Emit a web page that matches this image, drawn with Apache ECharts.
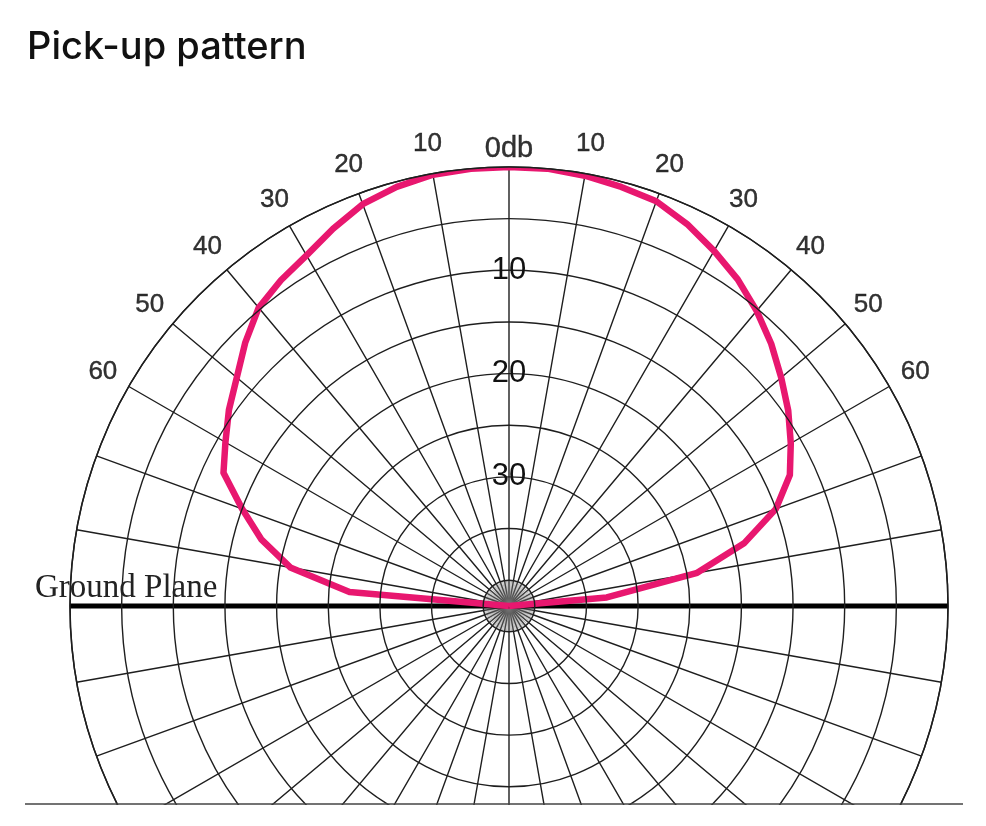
<!DOCTYPE html>
<html>
<head>
<meta charset="utf-8">
<script src="https://cdn.jsdelivr.net/npm/echarts@6/dist/echarts.min.js"></script>
<style>
html,body{margin:0;padding:0;background:#fff;}
#chart{width:986px;height:805px;}
</style>
</head>
<body>
<div id="chart"></div>
<script>
// Pick-up pattern: angle in degrees (clockwise from top, negative = left), attenuation in dB
const patternAngles = [-90,-85,-80,-75,-70,-65,-60,-55,-50,-45,-40,-35,-30,-25,-20,-15,-10,-5,0,5,10,15,20,25,30,35,40,45,50,55,60,65,70,75,80,85,90];
const patternDb     = [42.5,27,21,17.7,15,12,10.8,9.4,8.1,6.4,4.8,4.0,3.3,2.2,1.1,0.5,0.1,0,0,0,0.2,0.5,0.8,1.7,2.8,3.9,5.2,6.6,8.1,9.5,11,12.5,15,18.9,24,33,42.5];
// Ground plane: from left edge through centre to right edge
const groundAngles = [-90, 0, 90];
const groundDb     = [0, 42.5, 0];
// tick labels
const dbTickLabels = [10, 20, 30];
const angleLabelAngles = [-60, -50, -40, -30, -20, -10, 0, 10, 20, 30, 40, 50, 60];
const angleLabelTexts  = ['60', '50', '40', '30', '20', '10', '0db', '10', '20', '30', '40', '50', '60'];
const dbMax = 42.5;

// label placement (style constants, in dB units outside the 0 dB ring)
const labelOffsetDb = -2.9;
const zeroLabelOffsetDb = -1.7;

const toAxisAngle = a => (a + 360) % 360;
const patternData = patternAngles.map((a, i) => [patternDb[i], toAxisAngle(a)]);
const groundData = groundAngles.map((a, i) => [groundDb[i], toAxisAngle(a)]);
const angleLabelData = angleLabelAngles.map((a, i) => ({
  value: [a === 0 ? zeroLabelOffsetDb : labelOffsetDb, toAxisAngle(a)],
  name: angleLabelTexts[i],
  label: a === 0 ? {fontSize: 29} : undefined
}));

const gridColor = '#1e1e1e';
const chart = echarts.init(document.getElementById('chart'));
chart.setOption({
  animation: false,
  backgroundColor: '#fff',
  title: {
    text: 'Pick-up pattern',
    left: 22, top: 24,
    textStyle: {fontFamily: 'Inter', fontWeight: 500, fontSize: 38, color: '#111'}
  },
  polar: [
    {center: [509, 606], radius: 439},
    {center: [509, 606], radius: 26}
  ],
  angleAxis: [
    {
      polarIndex: 0, type: 'value', min: 0, max: 360, interval: 10,
      startAngle: 90, clockwise: true,
      axisLine: {show: true, lineStyle: {color: gridColor, width: 1.5}},
      axisTick: {show: false},
      axisLabel: {show: false},
      splitLine: {show: true, lineStyle: {color: gridColor, width: 1.4}}
    },
    {
      polarIndex: 1, type: 'value', min: 0, max: 360, interval: 3,
      startAngle: 90,
      axisLine: {show: false}, axisTick: {show: false}, axisLabel: {show: false},
      splitLine: {show: true, lineStyle: {color: '#777', width: 0.5}}
    }
  ],
  radiusAxis: [
    {
      polarIndex: 0, type: 'value', min: 0, max: dbMax, interval: 5, inverse: true,
      axisLine: {show: false}, axisTick: {show: false},
      splitLine: {show: true, lineStyle: {color: gridColor, width: 1.4}},
      axisLabel: {
        margin: 0, align: 'center', verticalAlign: 'middle',
        fontFamily: "'Liberation Sans', Arial",
        fontSize: 31, color: '#111',
        formatter: v => dbTickLabels.indexOf(v) >= 0 ? String(v) : ''
      },
      z: 5
    },
    {
      polarIndex: 1, type: 'value', min: 0, max: 1, show: false,
      splitLine: {show: false}
    }
  ],
  series: [
    {
      type: 'line', coordinateSystem: 'polar', polarIndex: 0,
      data: groundData, symbol: 'none',
      lineStyle: {color: '#000', width: 5}, z: 3
    },
    {
      type: 'line', coordinateSystem: 'polar', polarIndex: 0,
      data: patternData, symbol: 'none',
      lineStyle: {color: '#e8176f', width: 6.5, join: 'round'}, z: 4
    },
    {
      type: 'scatter', coordinateSystem: 'polar', polarIndex: 0,
      data: angleLabelData, symbolSize: 1, clip: false,
      itemStyle: {color: 'rgba(0,0,0,0)'},
      silent: true,
      label: {
        show: true, position: 'inside', formatter: '{b}',
        fontFamily: "'Liberation Sans', Arial", fontSize: 26,
        color: '#000', textBorderColor: '#000', textBorderWidth: 0.4
      },
      z: 6
    }
  ],
  graphic: [
    {
      type: 'text', left: 35, top: 572, z: 10,
      style: {text: 'Ground Plane', font: "33px 'Liberation Serif', 'Times New Roman', serif", fill: '#222'}
    },
    {
      type: 'line', z: 10,
      shape: {x1: 25, y1: 804, x2: 963, y2: 804},
      style: {stroke: '#444', lineWidth: 1.5}
    }
  ]
});
</script>
</body>
</html>
